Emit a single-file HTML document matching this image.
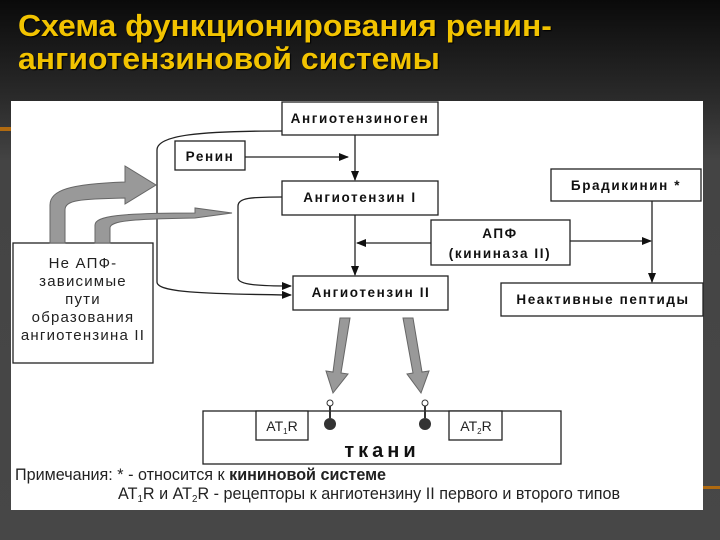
<!DOCTYPE html>
<html><head><meta charset="utf-8"><style>
html,body{margin:0;padding:0;}
body{width:720px;height:540px;overflow:hidden;background:linear-gradient(180deg,#0a0a0a 0%,#2a2a2a 18%,#444 30%,#474747 100%);position:relative;font-family:"Liberation Sans",sans-serif;}
.title{position:absolute;left:18px;top:9px;color:#f2c300;font-weight:bold;font-size:31px;line-height:33px;transform:scaleX(1.03);transform-origin:0 0;white-space:nowrap;text-shadow:1px 1px 1px #000;}
svg{position:absolute;left:0;top:0;}
</style></head><body>
<div class="title">Схема функционирования ренин-<br>ангиотензиновой системы</div>
<svg width="720" height="540" viewBox="0 0 720 540">
<defs>
<marker id="a" markerWidth="10" markerHeight="8" refX="9" refY="4" orient="auto" markerUnits="userSpaceOnUse"><path d="M0,0 L10,4 L0,8 z" fill="#111"/></marker>
</defs>
<rect x="0" y="127" width="14" height="4" fill="#b06a10"/>
<rect x="700" y="486" width="20" height="3" fill="#b06a10"/>
<rect x="11" y="101" width="692" height="409" fill="#fff"/>
<g stroke="#222" stroke-width="1.3" fill="#fff">
<rect x="282" y="102" width="156" height="33"/>
<rect x="175" y="141" width="70" height="29"/>
<rect x="282" y="181" width="156" height="34"/>
<rect x="551" y="169" width="150" height="32"/>
<rect x="431" y="220" width="139" height="45"/>
<rect x="293" y="276" width="155" height="34"/>
<rect x="501" y="283" width="202" height="33"/>
<rect x="13" y="243" width="140" height="120"/>
<rect x="203" y="411" width="358" height="53"/>
<rect x="256" y="411" width="52" height="29"/>
<rect x="449" y="411" width="53" height="29"/>
</g>
<g stroke="#222" stroke-width="1.3" fill="none">
<path d="M282,131 C200,131 157,135 157,150 L157,282 C157,292 200,294 291,295" marker-end="url(#a)"/>
<path d="M282,197 C250,197 238,198 238,206 L238,278 C238,285 260,286 291,286" marker-end="url(#a)"/>
<path d="M245,157 L348,157" marker-end="url(#a)"/>
<path d="M355,135 L355,180" marker-end="url(#a)"/>
<path d="M355,215 L355,275" marker-end="url(#a)"/>
<path d="M431,243 L357,243" marker-end="url(#a)"/>
<path d="M570,241 L651,241" marker-end="url(#a)"/>
<path d="M652,201 L652,282" marker-end="url(#a)"/>
</g>
<g fill="#999" stroke="#666" stroke-width="1">
<path d="M50,243 L50,205 C50,190 70,184 125,182 L125,166 L156,185 L125,204 L125,198 C80,199 65,200 65,210 L65,243 Z"/>
<path d="M95,243 L95,225 C95,216 120,213 195,213 L195,208 L232,213 L195,218 L195,218 C130,219 110,221 110,228 L110,243 Z"/>
<path d="M340,318 L350,318 L341,373 L348,374 L333,393 L326,371 L333,372 Z"/>
<path d="M403,318 L413,318 L422,372 L429,371 L421,393 L407,374 L413,373 Z"/>
</g>
<g fill="#333">
<circle cx="330" cy="403" r="3" fill="none" stroke="#333"/><rect x="329" y="406" width="2" height="12"/>
<circle cx="330" cy="424" r="6"/>
<circle cx="425" cy="403" r="3" fill="none" stroke="#333"/><rect x="424" y="406" width="2" height="12"/>
<circle cx="425" cy="424" r="6"/>
</g>
<g font-family="Liberation Sans, sans-serif" font-weight="bold" font-size="13.5" letter-spacing="1.6" fill="#111" text-anchor="middle">
<text x="360" y="123">Ангиотензиноген</text>
<text x="210" y="161">Ренин</text>
<text x="360" y="202">Ангиотензин I</text>
<text x="626" y="190">Брадикинин *</text>
<text x="500" y="238">АПФ</text>
<text x="500" y="258">(кининаза II)</text>
<text x="371" y="297">Ангиотензин II</text>
<text x="603" y="304">Неактивные пептиды</text>
</g>
<g font-family="Liberation Sans, sans-serif" font-size="15" letter-spacing="1.2" fill="#222" text-anchor="middle">
<text x="83" y="268">Не АПФ-</text>
<text x="83" y="286">зависимые</text>
<text x="83" y="304">пути</text>
<text x="83" y="322">образования</text>
<text x="83" y="340">ангиотензина II</text>
</g>
<g font-family="Liberation Sans, sans-serif" font-size="14" fill="#222" text-anchor="middle">
<text x="282" y="431">AT<tspan font-size="8" dy="3">1</tspan><tspan dy="-3">R</tspan></text>
<text x="476" y="431">AT<tspan font-size="8" dy="3">2</tspan><tspan dy="-3">R</tspan></text>
</g>
<text x="382" y="457" font-family="Liberation Sans, sans-serif" font-weight="bold" font-size="20" letter-spacing="4" text-anchor="middle" fill="#111">ткани</text>
<g font-family="Liberation Sans, sans-serif" font-size="16.5" fill="#222">
<text x="15" y="480" transform="scale(0.98,1)" transform-origin="15 480">Примечания:  * - относится к <tspan font-weight="bold">кининовой системе</tspan></text>
<text x="118" y="499" transform="scale(0.98,1)" transform-origin="118 499">AT<tspan font-size="10" dy="3">1</tspan><tspan dy="-3">R  и  AT</tspan><tspan font-size="10" dy="3">2</tspan><tspan dy="-3">R  -  рецепторы к ангиотензину II первого и второго типов</tspan></text>
</g>
</svg>
</body></html>
